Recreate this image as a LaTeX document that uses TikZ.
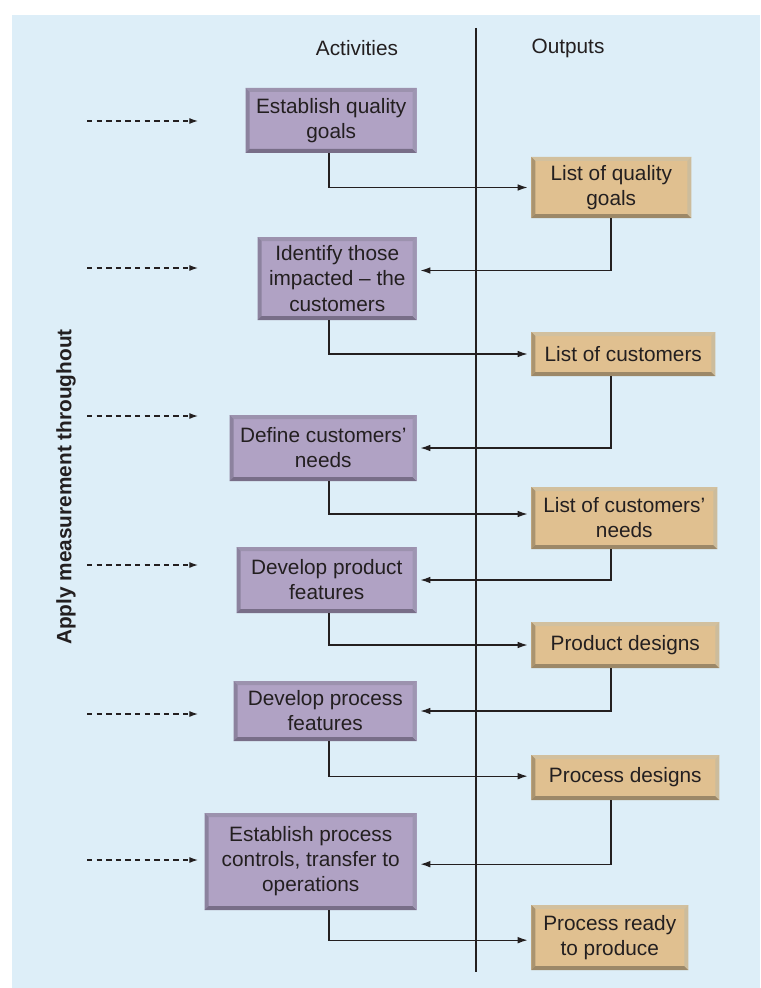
\documentclass[tikz,border=0pt]{standalone}
\usepackage{fontspec}
\setmainfont{Liberation Sans}
\usetikzlibrary{arrows.meta, positioning, calc}

\definecolor{bgblue}{RGB}{221,238,248}
\definecolor{inkgrey}{RGB}{35,31,32}
\definecolor{actfill}{RGB}{176,162,196}
\definecolor{acttop}{RGB}{156,146,174}
\definecolor{actleft}{RGB}{140,130,158}
\definecolor{actbot}{RGB}{120,110,136}
\definecolor{actright}{RGB}{158,150,178}
\definecolor{outfill}{RGB}{224,192,144}
\definecolor{outtop}{RGB}{210,192,158}
\definecolor{outleft}{RGB}{170,148,112}
\definecolor{outbot}{RGB}{156,136,104}
\definecolor{outright}{RGB}{204,188,156}

\tikzset{
  bevel/.style n args={5}{fill=#1, path picture={
      \path (path picture bounding box.south west) coordinate (bsw)
            (path picture bounding box.south east) coordinate (bse)
            (path picture bounding box.north east) coordinate (bne)
            (path picture bounding box.north west) coordinate (bnw);
      \fill[#2] (bnw) -- (bne) -- ([shift={(-3pt,-3pt)}]bne) -- ([shift={(3pt,-3pt)}]bnw) -- cycle;
      \fill[#3] (bsw) -- (bnw) -- ([shift={(3pt,-3pt)}]bnw) -- ([shift={(3pt,3pt)}]bsw) -- cycle;
      \fill[#4] (bsw) -- (bse) -- ([shift={(-3pt,3pt)}]bse) -- ([shift={(3pt,3pt)}]bsw) -- cycle;
      \fill[#5] (bse) -- (bne) -- ([shift={(-3pt,-3pt)}]bne) -- ([shift={(-3pt,3pt)}]bse) -- cycle;
    }},
  boxsize/.style 2 args={minimum width=#1*0.75pt, minimum height=#2*0.75pt},
  actbox/.style={bevel={actfill}{acttop}{actleft}{actbot}{actright}, inner sep=0pt, align=center, anchor=east},
  outbox/.style={bevel={outfill}{outtop}{outleft}{outbot}{outright}, inner sep=0pt, align=center, anchor=west},
  arrow/.style={-{Latex[length=7.5pt,width=5pt]}, line width=1pt, draw=inkgrey, shorten >=2.5pt},
  measure/.style={-{Latex[length=6.5pt,width=4.5pt]}, line width=0.9pt, draw=inkgrey, dash pattern=on 4pt off 3.2pt}
}

\begin{document}
\begin{tikzpicture}[x=0.75pt, y=-0.75pt, text=inkgrey,
    every node/.style={font=\fontsize{15.6}{18.8}\selectfont}]
  \useasboundingbox (0,0) rectangle (760,988);
  \fill[bgblue] (12,15) rectangle (760,988);

  % column heads and divider
  \node (hact) at (357,48) {Activities};
  \node (hout) at (568,48) {Outputs};
  \coordinate (dtop) at (476,28);
  \coordinate (dbot) at (476,972);
  \draw[line width=0.8pt, inkgrey] (dtop) -- (dbot);

  % activities (left)
  \node[actbox, boxsize={171}{65}] (a1) at (417,120.5) {Establish quality\\goals};
  \node[actbox, boxsize={159}{83}] (a2) at (417,278.5) {Identify those\\impacted -- the\\customers};
  \node[actbox, boxsize={187}{66}] (a3) at (417,448) {Define customers’\\needs};
  \node[actbox, boxsize={180}{66}] (a4) at (417,580) {Develop product\\features};
  \node[actbox, boxsize={183}{60}] (a5) at (417,711) {Develop process\\features};
  \node[actbox, boxsize={212}{97}] (a6) at (417,861.5) {Establish process\\controls, transfer to\\operations};

  % outputs (right)
  \node[outbox, boxsize={160}{61}] (o1) at (531,187.5) {List of quality\\goals};
  \node[outbox, boxsize={184}{44}] (o2) at (531,354) {List of customers};
  \node[outbox, boxsize={186}{62}] (o3) at (531,518) {List of customers’\\needs};
  \node[outbox, boxsize={188}{46}] (o4) at (531,645) {Product designs};
  \node[outbox, boxsize={188}{45}] (o5) at (531,777.5) {Process designs};
  \node[outbox, boxsize={157}{65}] (o6) at (531,937.5) {Process ready\\to produce};

  % connectors
  \coordinate (ax) at (329,0);
  \coordinate (ox) at (611,0);
  \foreach \k/\dy in {1/0, 2/0, 3/3, 4/0, 5/1, 6/-2}
    \draw[arrow] (a\k.south -| ax) |- ([yshift=\dy pt]o\k.west);
  \foreach \k/\n/\dy in {1/2/6, 2/3/0, 3/4/0, 4/5/0, 5/6/-2}
    \draw[arrow] (o\k.south -| ox) |- ([yshift=\dy pt]a\n.east);

  % measurement side
  \node[font=\bfseries\fontsize{15.6}{18.8}\selectfont, rotate=90] (apply) at (66,487) {Apply measurement throughout};
  \foreach \y [count=\k] in {121,268,416,565,714,860} {
    \coordinate (m\k s) at (87,\y);
    \coordinate (m\k e) at (198,\y);
    \draw[measure] (m\k s) -- (m\k e);
  }
\end{tikzpicture}
\end{document}
